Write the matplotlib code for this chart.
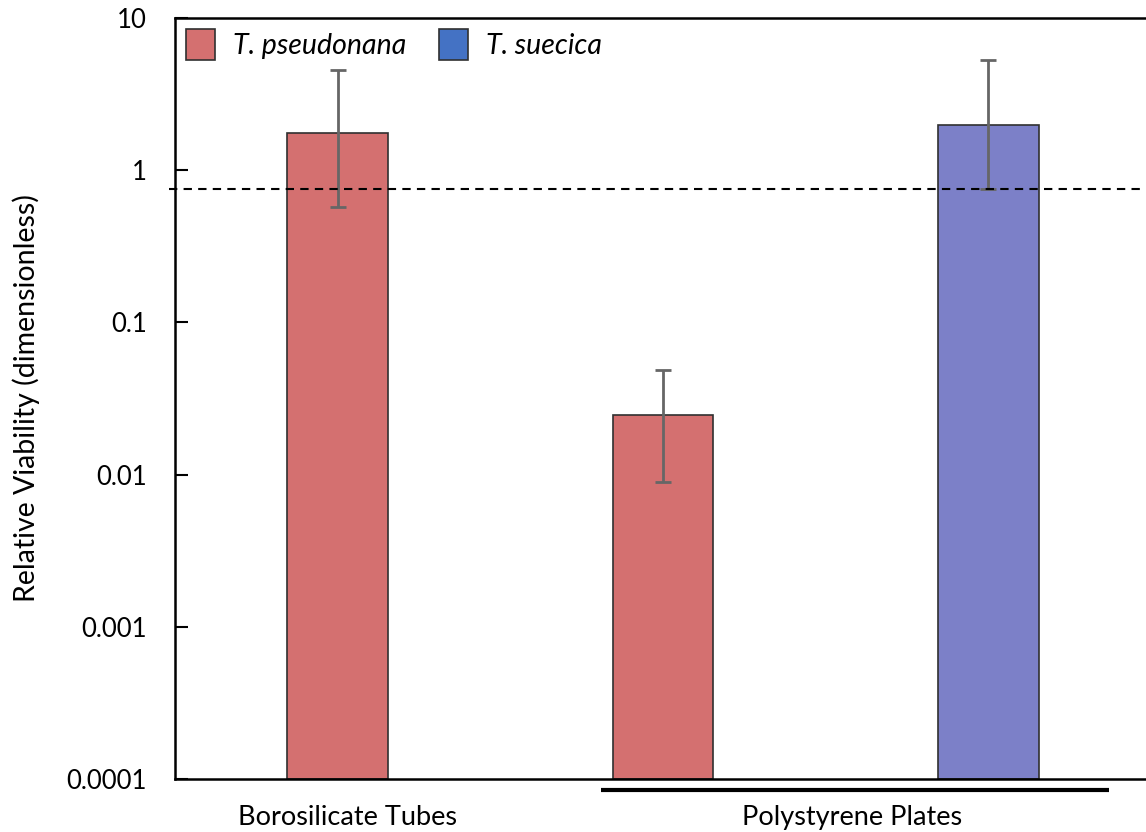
import matplotlib
matplotlib.use("Agg")
import matplotlib.pyplot as plt
from matplotlib.patches import Patch
import numpy as np

# Relative viability by container and species
groups = ["Borosilicate Tubes", "Polystyrene Plates"]
bar_species = ["T. pseudonana", "T. pseudonana", "T. suecica"]
viability = [1.76, 0.0247, 1.98]
err_low = [0.573, 0.0089, 0.752]
err_high = [4.55, 0.0486, 5.3]
threshold = 0.75

y_ticks = [0.0001, 0.001, 0.01, 0.1, 1, 10]
y_tick_labels = ["0.0001", "0.001", "0.01", "0.1", "1", "10"]

species_color = {"T. pseudonana": "#D47070", "T. suecica": "#7C80C8"}
legend_color = {"T. pseudonana": "#D47070", "T. suecica": "#4472C4"}

plt.rcParams["font.family"] = ["Lato", "DejaVu Sans"]

fig = plt.figure(figsize=(11.46, 8.32), dpi=100)
W, H = 1146, 832
ax = fig.add_axes([175 / W, 1 - 779 / H, (1151 - 175) / W, (779 - 18) / H])

x = np.arange(len(viability))
vals = np.array(viability)
yerr = np.vstack([vals - np.array(err_low), np.array(err_high) - vals])
ax.bar(x, vals, width=0.31, color=[species_color[s] for s in bar_species],
       edgecolor="#303030", linewidth=1.2, zorder=2, bottom=0.0001)
ax.errorbar(x, vals, yerr=yerr, fmt="none", ecolor="#666666", elinewidth=2,
            capsize=6, capthick=2, zorder=3)

ax.set_yscale("log")
ax.set_ylim(0.0001, 10)
ax.set_xlim(-0.5, 2.5)
ax.set_yticks(y_ticks)
ax.set_yticklabels(y_tick_labels)
ax.minorticks_off()
ax.tick_params(axis="y", direction="in", length=9, width=1.5, labelsize=18.5, pad=20)
ax.set_xticks([])
for side in ["left", "bottom", "top"]:
    ax.spines[side].set_linewidth(1.8)
ax.spines["right"].set_visible(False)

# reference threshold line
ax.plot([-0.517, 2.6], [threshold, threshold], ls=(0, (4, 3)), color="black",
        lw=1.5, clip_on=False, zorder=4)

ax.set_ylabel("Relative Viability (dimensionless)", fontsize=20.5)
ax.yaxis.set_label_coords(-0.138, 0.5)

# group labels along the bottom
ax.text(0.03, -0.05, groups[0], transform=ax.get_xaxis_transform(),
        ha="center", va="center", fontsize=19.5)
ax.text(1.58, -0.05, groups[1], transform=ax.get_xaxis_transform(),
        ha="center", va="center", fontsize=19.5)
ax.plot([0.81, 2.37], [-0.015, -0.015], transform=ax.get_xaxis_transform(),
        color="black", lw=3, clip_on=False, solid_capstyle="butt")

handles = [Patch(facecolor=legend_color[s], edgecolor="#303030", linewidth=1.2, label=s)
           for s in ["T. pseudonana", "T. suecica"]]
leg = ax.legend(handles=handles, loc="upper left", ncol=2, frameon=False,
                prop={"style": "italic", "size": 20.5}, handlelength=1.0,
                handleheight=1.3, columnspacing=1.15, handletextpad=0.65,
                bbox_to_anchor=(0.0, 1.0), borderaxespad=0.0)

fig.savefig("out.png", dpi=100)
